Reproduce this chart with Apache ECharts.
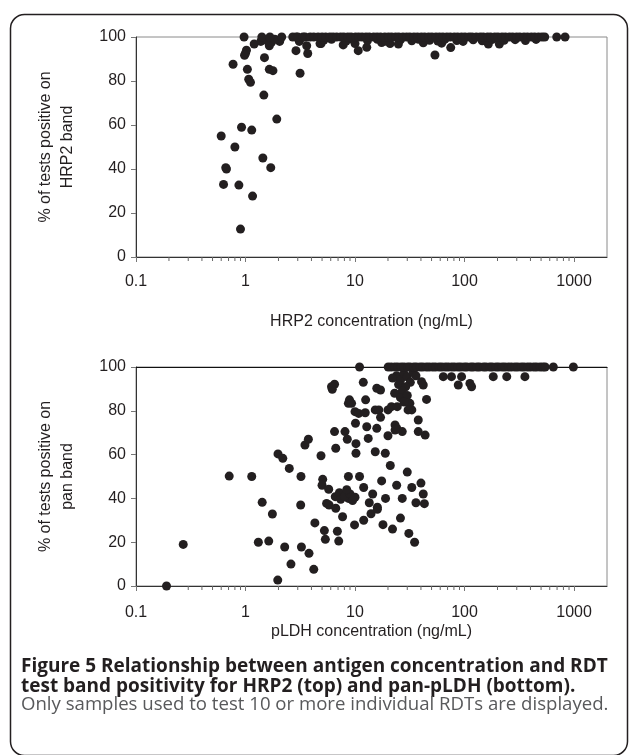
<!DOCTYPE html>
<html><head><meta charset="utf-8">
<script src="https://cdn.jsdelivr.net/npm/echarts@6/dist/echarts.min.js"></script>
<style>html,body{margin:0;padding:0;background:#fff}#c{width:629px;height:755px}</style>
</head><body><div id="c"></div>
<script>
// ---------- DATA ----------
const xTickLabels = ['0.1', '1', '10', '100', '1000'];
const yTickStep = 20;
const minorTickVals = [0.2,0.3,0.4,0.5,0.6,0.7,0.8,0.9,2,3,4,5,6,7,8,9,20,30,40,50,60,70,80,90,200,300,400,500,600,700,800,900];

// HRP2 (top panel): points below the 100% line
const hrp2Conc = [0.77,0.97,1.0,1.02,0.98,1.2,1.38,1.65,1.72,2.05,1.55,1.85,1.49,1.04,1.65,1.78,1.07,1.11,1.47,1.93,0.6,0.92,1.14,0.8,0.66,0.67,0.63,0.87,1.44,1.7,1.16,0.9,2.89,3.15,3.1,3.62,3.7,4.79,4.9,7.8,10.7,12.8,10,17.5,20.9,24.9,42,53.7,61.8,74.8,165,208,5.2,6.1,8.3,9.6,13,16,19,26,33,38,48,57,66,85,97,120,145,180,230,290,360,450];
const hrp2Pct  = [87.6,100,92.6,94,91.7,96.8,98,96,97.5,98,98.5,99,90.6,85.3,85.3,84.7,80.8,79.4,73.6,62.7,55,59,57.7,50,40.6,40,33,32.7,45,40.6,27.7,12.7,93.8,83.5,98,96,92.5,97,97,96.4,93.8,95.3,97,97.5,97,96.8,97.4,91.8,97.2,95.2,96.8,96.8,98.6,99,98.2,98.8,98.4,99,98.1,98.7,98.3,99,98.5,98.2,98.9,98.4,98,98.7,98.3,98.9,98.5,98.8,98.4,98.9];
// HRP2: samples at 100%
const hrp2FullConc = [1.41,1.67,2.14,2.9,2.7,3.0,3.35,3.5,3.9,4.2,4.6,5.0,5.4,5.9,6.3,6.8,7.4,7.9,8.6,9.2,10.1,10.8,11.6,12.6,13.5,14.8,15.9,17.1,18.7,20.2,21.6,23.5,25.1,27.4,29.6,31.7,34.5,37.1,40.3,43.2,47,50.4,54.9,59.1,63.5,69,74.1,80.6,86.5,93.9,101,110,117,128,139,148,162,173,189,202,220,236,257,275,299,320,349,375,407,437,474,510,540,695,828];
const hrp2FullPct = 100;

// pan-pLDH (bottom panel): points below the 100% line
const pldhConc = [0.19,0.27,0.71,1.14,1.42,1.76,1.31,1.63,1.98,2.19,2.51,3.21,3.19,2.28,3.24,3.8,2.6,1.97,4.2,4.3,3.49,3.75,4.89,5.07,5.0,5.75,5.5,5.8,6.67,5.25,5.36,6.9,7.1,7.7,6.2,6.5,6.5,6.67,8.1,8.5,8.7,6.6,7.2,7.4,8.7,8.7,8.9,10,10.1,10.2,10.2,9.9,8.0,9.0,9.5,10,8.4,6.1,9.3,
  11.9,15.8,17.1,12.5,10.8,12.4,15.3,16.5,17.1,20,21.5,24.3,31.7,33,30.5,15.8,23.2,24.1,27,37.8,13.2,15.3,18.9,20,23.2,37.8,43.7,12.8,45,40.5,42,64,76,94,87.7,112,116,183,243,356,
  24,26,28,30,32,25,34,36,29,27,23,26,30,28,22,
  11,12,13.5,14.5,16,17.5,19,21,24,27,30,33,36,40,43,12,14,16,18,22,26,31,35,42];
const pldhPct  = [0,19,50.2,50,38.2,32.9,20,20.5,60.3,58.3,53.7,50,37,17.8,17.8,14.9,10,2.7,7.6,28.8,64.4,67,59.5,48.7,46,44.2,37.7,37,35.5,25.3,21.3,25,20.5,31.6,89.8,92.1,70.5,62.9,70.5,67,50,40.8,42.6,39.6,83.4,40,85,79.6,74.3,65,60.6,27.9,41,42,39,40.5,44,91,83.4,
  93,90.3,89.5,85,78.8,79.1,80.4,80.4,77,80.4,81.9,81.9,83.4,80.4,80.4,72,73.5,72,70.5,75.8,67.4,61.3,60.6,68.6,71.2,70.5,68.9,72.7,85.2,93.3,91.8,95.6,95.6,95.6,91.8,92.5,91,95.6,95.6,95.6,
  96,94,97,95.5,93,92,97.5,96,91,89,88,86,87,84,95,
  50,45,38,42,36,48,40,55,46,40,52,45,38,47,37.6,30,33,35,28,26,31,24,20,42];
// pan-pLDH: samples at 100%
const pldhFullConc = [11,20.1,21.4,23.1,24.5,26.4,28,30.2,31.8,34.5,36.4,39.3,41.6,44.9,47.6,51.2,54.3,58.6,62.1,66.9,71,76.4,81,87.3,92.5,99.6,105,114,120,130,137,149,157,170,179,194,205,221,234,252,268,289,306,330,349,376,399,430,455,490,520,545,647,986];
const pldhFullPct = 100;

// caption
const captionBold = ['Figure 5 Relationship between antigen concentration and RDT', 'test band positivity for HRP2 (top) and pan-pLDH (bottom).'];
const captionNote = 'Only samples used to test 10 or more individual RDTs are displayed.';

// ---------- CHART ----------
const TXT = '#231f20';
const FONT = 'Liberation Sans';
const pairs = (xs, ys) => xs.map((x, i) => [x, Array.isArray(ys) ? ys[i] : ys]);
const labelFmt = v => {
  const l = Math.log10(v), r = Math.round(l);
  if (Math.abs(l - r) > 1e-6) return '';
  return xTickLabels[r + 1] || '';
};

function xAxisCfg(gi, nameGap, labelMargin, name) {
  return {
    type: 'log', logBase: 10, gridIndex: gi, min: 0.1, max: 2000,
    name: name, nameLocation: 'middle', nameGap: nameGap,
    nameTextStyle: {fontSize: 16, color: TXT, fontFamily: FONT},
    axisLine: {onZero: false, lineStyle: {color: '#333', width: 1}},
    axisTick: {show: true, length: 5, inside: false, lineStyle: {color: '#777'}},
    minorTick: {show: false},
    axisLabel: {formatter: labelFmt, fontSize: 16, color: TXT, fontFamily: FONT, margin: labelMargin, showMaxLabel: false},
    splitLine: {show: false}
  };
}
function yAxisCfg(gi, name) {
  return {
    type: 'value', gridIndex: gi, min: 0, max: 100, interval: yTickStep,
    name: name, nameLocation: 'middle', nameGap: 57, nameRotate: 90,
    nameTextStyle: {fontSize: 16, lineHeight: 22, color: TXT, fontFamily: FONT},
    axisLine: {show: true, lineStyle: {color: '#333', width: 1}},
    axisTick: {show: true, length: 5, lineStyle: {color: '#777'}},
    axisLabel: {fontSize: 16, color: TXT, fontFamily: FONT, margin: 10},
    splitLine: {show: false}
  };
}
function minorTickSeries(xi, yi) {
  return {
    type: 'custom', xAxisIndex: xi, yAxisIndex: yi, silent: true, clip: false, z: 1,
    data: minorTickVals.map(v => [v, 0]),
    renderItem: (params, api) => {
      const p = api.coord([api.value(0), 0]);
      return {type: 'line', shape: {x1: p[0], y1: p[1], x2: p[0], y2: p[1] + 4},
              style: {stroke: '#666', lineWidth: 1}};
    }
  };
}
const dot = {symbol: 'circle', symbolSize: 9, itemStyle: {color: TXT, opacity: 1}};

const option = {
  animation: false,
  backgroundColor: '#fff',
  grid: [
    {left: 136, top: 37, width: 471, height: 220, show: true, borderColor: '#8a8a8a', borderWidth: 1, backgroundColor: 'transparent'},
    {left: 136, top: 367, width: 471, height: 219, show: true, borderColor: '#8a8a8a', borderWidth: 1, backgroundColor: 'transparent'}
  ],
  xAxis: [
    xAxisCfg(0, 57, 17, 'HRP2 concentration (ng/mL)'),
    xAxisCfg(1, 38, 19, 'pLDH concentration (ng/mL)'),
    {type: 'log', gridIndex: 1, position: 'top', min: 0.1, max: 2000,
     axisLine: {show: true, onZero: false, lineStyle: {color: '#111', width: 1.2}},
     axisTick: {show: false}, axisLabel: {show: false}, splitLine: {show: false}}
  ],
  yAxis: [
    yAxisCfg(0, '% of tests positive on\nHRP2 band'),
    yAxisCfg(1, '% of tests positive on\npan band')
  ],
  series: [
    minorTickSeries(0, 0),
    minorTickSeries(1, 1),
    Object.assign({type: 'scatter', xAxisIndex: 0, yAxisIndex: 0, data: pairs(hrp2Conc, hrp2Pct), z: 5}, dot),
    Object.assign({type: 'scatter', xAxisIndex: 0, yAxisIndex: 0, data: pairs(hrp2FullConc, hrp2FullPct), z: 5}, dot),
    Object.assign({type: 'scatter', xAxisIndex: 1, yAxisIndex: 1, data: pairs(pldhConc, pldhPct), z: 5}, dot),
    Object.assign({type: 'scatter', xAxisIndex: 1, yAxisIndex: 1, data: pairs(pldhFullConc, pldhFullPct), z: 5}, dot)
  ],
  graphic: [
    {type: 'rect', left: 8, top: 12, shape: {x: 0, y: 0, width: 617, height: 741, r: 14},
     style: {fill: 'none', stroke: TXT, lineWidth: 1.5}, silent: true},
    {type: 'text', x: 21, y: 667, style: {text: captionBold[0], fontFamily: 'Open Sans', fontWeight: 'bold', fontSize: 19, fill: TXT, verticalAlign: 'middle'}},
    {type: 'text', x: 21, y: 687, style: {text: captionBold[1], fontFamily: 'Open Sans', fontWeight: 'bold', fontSize: 19, fill: TXT, verticalAlign: 'middle'}},
    {type: 'text', x: 21, y: 705, style: {text: captionNote, fontFamily: 'Open Sans', fontSize: 18.6, fill: '#58595b', verticalAlign: 'middle'}}
  ]
};
const chart = echarts.init(document.getElementById('c'), null, {renderer: 'canvas'});
chart.setOption(option);
</script></body></html>
